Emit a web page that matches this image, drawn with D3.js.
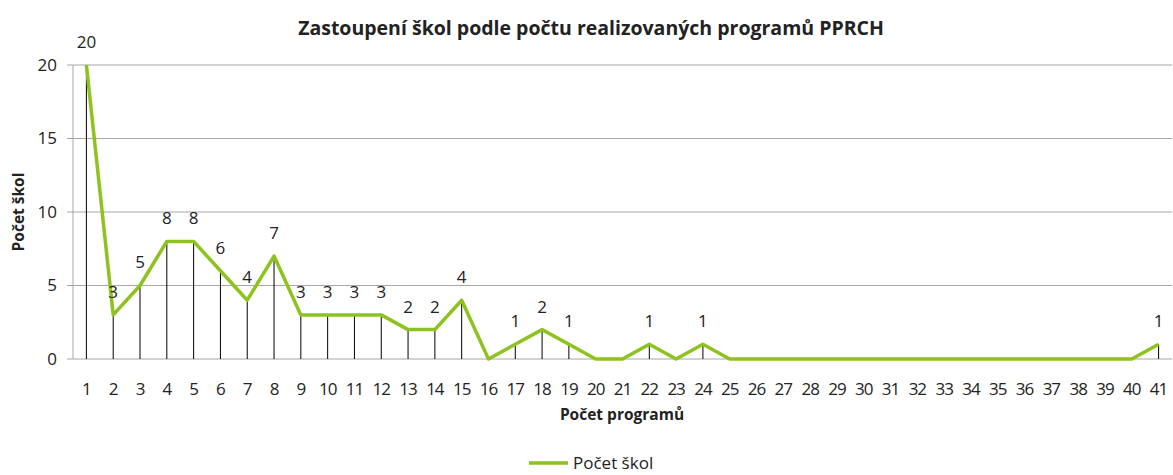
<!DOCTYPE html>
<html>
<head>
<meta charset="utf-8">
<script src="https://cdn.jsdelivr.net/npm/d3@7"></script>
<style>
  body { margin: 0; background: #fff; }
  text { font-family: "Open Sans", "Liberation Sans", sans-serif; fill: #222; }
</style>
</head>
<body>
<div id="chart"></div>
<script>
// Number of programmes per school (categories) and number of schools
const programCounts = d3.range(1, 42);
const schoolCounts = [20, 3, 5, 8, 8, 6, 4, 7, 3, 3, 3, 3, 2, 2, 4, 0, 1, 2, 1, 0,
                      0, 1, 0, 1, 0, 0, 0, 0, 0, 0, 0, 0, 0, 0, 0, 0, 0, 0, 0, 0, 1];
const yTicks = [0, 5, 10, 15, 20];
const seriesName = "Počet škol";

const W = 1173, H = 475;
const margin = { top: 65, right: 1, bottom: 116, left: 73 };
const width = W - margin.left - margin.right;
const height = H - margin.top - margin.bottom;

const data = programCounts.map((p, i) => ({ p: p, v: schoolCounts[i] }));

const svg = d3.select("#chart").append("svg")
    .attr("width", W)
    .attr("height", H);

// Title
svg.append("text")
    .attr("x", 591).attr("y", 35)
    .attr("text-anchor", "middle")
    .style("font-size", "19.5px").style("font-weight", "bold")
    .text("Zastoupení škol podle počtu realizovaných programů PPRCH");

const g = svg.append("g")
    .attr("transform", `translate(${margin.left},${margin.top})`);

const x = d3.scaleBand()
    .domain(programCounts)
    .range([0, width]);

const y = d3.scaleLinear()
    .domain([0, 20])
    .range([height, 0]);

const cx = d => x(d.p) + x.bandwidth() / 2;

// Gridlines
g.append("g")
    .selectAll("line")
    .data(yTicks)
    .enter().append("line")
    .attr("x1", -6).attr("x2", width)
    .attr("y1", d => y(d)).attr("y2", d => y(d))
    .attr("stroke", "#a6a6a6").attr("stroke-width", 1);

// Y axis line
g.append("line")
    .attr("x1", 0).attr("x2", 0)
    .attr("y1", 0).attr("y2", height)
    .attr("stroke", "#a6a6a6");

// Y tick labels
g.append("g")
    .selectAll("text")
    .data(yTicks)
    .enter().append("text")
    .attr("x", -16).attr("y", d => y(d))
    .attr("dy", "0.35em")
    .attr("text-anchor", "end")
    .style("font-size", "17px")
    .text(d => d);

// X tick labels
g.append("g")
    .selectAll("text")
    .data(programCounts)
    .enter().append("text")
    .attr("x", d => x(d) + x.bandwidth() / 2)
    .attr("y", height + 30)
    .attr("dy", "0.35em")
    .attr("text-anchor", "middle")
    .style("font-size", "17px")
    .style("letter-spacing", "-1px")
    .text(d => d);

// Drop lines
g.append("g")
    .selectAll("line")
    .data(data)
    .enter().append("line")
    .attr("x1", cx).attr("x2", cx)
    .attr("y1", d => y(d.v)).attr("y2", y(0))
    .attr("stroke", "#000").attr("stroke-width", 1);

// Series line
const line = d3.line()
    .x(cx)
    .y(d => y(d.v));

g.append("path")
    .datum(data)
    .attr("fill", "none")
    .attr("stroke", "#8dc21f")
    .attr("stroke-width", 3.5)
    .attr("stroke-linejoin", "round")
    .attr("d", line);

// Data labels
g.append("g")
    .selectAll("text")
    .data(data.filter(d => d.v > 0))
    .enter().append("text")
    .attr("x", cx)
    .attr("y", d => y(d.v) - 23)
    .attr("dy", "0.35em")
    .attr("text-anchor", "middle")
    .style("font-size", "17px")
    .text(d => d.v);

// Axis titles
svg.append("text")
    .attr("transform", `translate(24,${margin.top + height / 2}) rotate(-90)`)
    .attr("text-anchor", "middle")
    .style("font-size", "15.5px").style("font-weight", "bold")
    .text("Počet škol");

svg.append("text")
    .attr("x", 622).attr("y", 420)
    .attr("text-anchor", "middle")
    .style("font-size", "15.5px").style("font-weight", "bold")
    .text("Počet programů");

// Legend
const lg = svg.append("g").attr("transform", "translate(529,463)");
lg.append("line")
    .attr("x1", 0).attr("x2", 39)
    .attr("stroke", "#8dc21f").attr("stroke-width", 3.5);
lg.append("text")
    .attr("x", 44).attr("y", 0).attr("dy", "0.35em")
    .style("font-size", "17px")
    .text(seriesName);
</script>
</body>
</html>
